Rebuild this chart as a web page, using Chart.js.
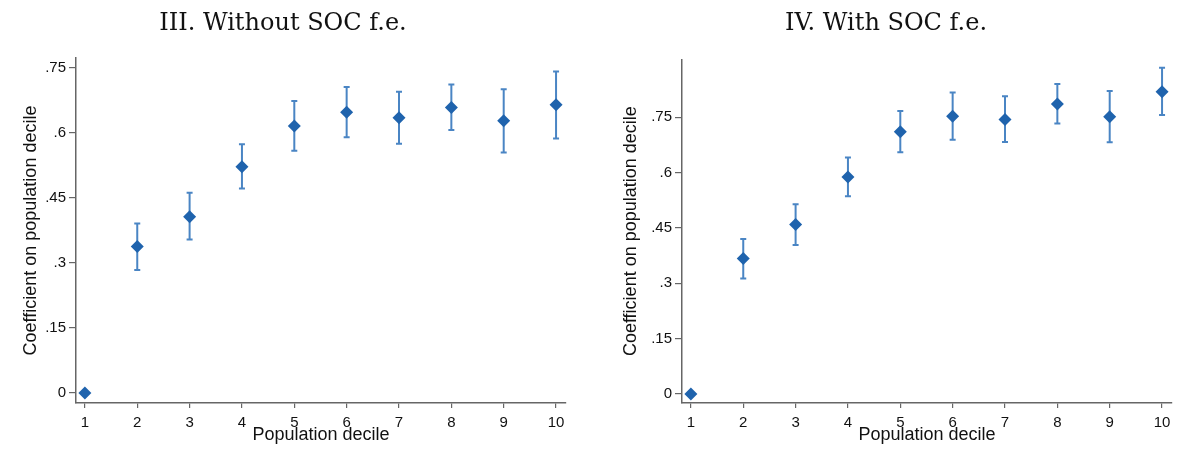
<!DOCTYPE html>
<html>
<head>
<meta charset="utf-8">
<script src="https://cdn.jsdelivr.net/npm/chart.js@4.4.1/dist/chart.umd.min.js"></script>
<style>
  body { margin: 0; background: #fff; }
  .panel { position: absolute; top: 0; height: 458px; }
</style>
</head>
<body>
<div class="panel" style="left:0;width:590px"><canvas id="chart3"></canvas></div>
<div class="panel" style="left:600px;width:583px"><canvas id="chart4"></canvas></div>
<script>
const deciles = [1, 2, 3, 4, 5, 6, 7, 8, 9, 10];
const yTicks = [0, 0.15, 0.3, 0.45, 0.6, 0.75];

// III. Without SOC f.e.
const coefIII = [0, 0.338, 0.407, 0.522, 0.616, 0.648, 0.635, 0.659, 0.628, 0.665];
const lowIII = [null, 0.284, 0.354, 0.472, 0.559, 0.590, 0.575, 0.607, 0.555, 0.587];
const highIII = [null, 0.391, 0.462, 0.574, 0.674, 0.706, 0.695, 0.712, 0.701, 0.742];

// IV. With SOC f.e.
const coefIV = [0, 0.367, 0.459, 0.588, 0.711, 0.753, 0.744, 0.786, 0.751, 0.819];
const lowIV = [null, 0.313, 0.404, 0.536, 0.655, 0.689, 0.683, 0.733, 0.682, 0.756];
const highIV = [null, 0.420, 0.514, 0.641, 0.767, 0.817, 0.807, 0.840, 0.821, 0.884];

const axisColor = "#666";
const textColor = "#111";

// draws the confidence intervals behind the diamonds
const errorBars = {
    id: "errorBars",
    beforeDatasetsDraw(chart, args, opts) {
        const { ctx, scales } = chart;
        ctx.save();
        ctx.strokeStyle = "#4a85c4";
        ctx.lineWidth = 2;
        opts.low.forEach((lo, i) => {
            if (lo === null) return;
            const x = scales.x.getPixelForValue(deciles[i]);
            const y1 = scales.y.getPixelForValue(lo);
            const y2 = scales.y.getPixelForValue(opts.high[i]);
            ctx.beginPath();
            ctx.moveTo(x, y1);
            ctx.lineTo(x, y2);
            ctx.moveTo(x - 3, y1);
            ctx.lineTo(x + 3, y1);
            ctx.moveTo(x - 3, y2);
            ctx.lineTo(x + 3, y2);
            ctx.stroke();
        });
        ctx.restore();
    },
};

function makePanel(id, title, coef, low, high, yMin, yMax, yWidth, padRight, titleBottom) {
    return new Chart(document.getElementById(id), {
        type: "scatter",
        data: {
            datasets: [
                {
                    data: deciles.map((d, i) => ({ x: d, y: coef[i] })),
                    pointStyle: "rectRot",
                    pointRadius: 6.5,
                    pointBorderWidth: 0,
                    backgroundColor: "#1f63ad",
                    borderColor: "#1f63ad",
                },
            ],
        },
        options: {
            responsive: true,
            maintainAspectRatio: false,
            animation: false,
            layout: { padding: { left: 0, right: padRight, top: 0, bottom: 0 } },
            plugins: {
                legend: { display: false },
                tooltip: { enabled: false },
                title: {
                    display: true,
                    text: title,
                    color: "#111",
                    font: { family: "DejaVu Serif", size: 24, weight: "normal", lineHeight: 1.2 },
                    padding: { top: 9, bottom: titleBottom },
                },
                errorBars: { low: low, high: high },
            },
            scales: {
                x: {
                    type: "linear",
                    min: 0.83,
                    max: 10.19,
                    afterBuildTicks: (s) => { s.ticks = deciles.map((v) => ({ value: v })); },
                    afterFit: (s) => { s.height = 55; },
                    grid: { drawOnChartArea: false, drawTicks: true, tickLength: 5, color: axisColor, lineWidth: 1.2 },
                    border: { display: true, color: axisColor, width: 1.5 },
                    ticks: { color: textColor, padding: 6, maxRotation: 0, font: { family: "Liberation Sans", size: 15 } },
                    title: {
                        display: true,
                        text: "Population decile",
                        color: textColor,
                        font: { family: "Liberation Sans", size: 18, lineHeight: 1.2 },
                        padding: { top: 0, bottom: 12 },
                    },
                },
                y: {
                    min: yMin,
                    max: yMax,
                    afterBuildTicks: (s) => { s.ticks = yTicks.map((v) => ({ value: v })); },
                    afterFit: (s) => { s.width = yWidth; },
                    grid: { drawOnChartArea: false, drawTicks: true, tickLength: 7, color: axisColor, lineWidth: 1.2 },
                    border: { display: true, color: axisColor, width: 1.5 },
                    ticks: {
                        color: textColor,
                        padding: 3,
                        font: { family: "Liberation Sans", size: 15 },
                        callback: (v) => (v === 0 ? "0" : String(v).replace(/^0/, "")),
                    },
                    title: {
                        display: true,
                        text: "Coefficient on population decile",
                        color: textColor,
                        font: { family: "Liberation Sans", size: 18, lineHeight: 1.2 },
                        padding: { top: 20, bottom: 0 },
                    },
                },
            },
        },
        plugins: [errorBars],
    });
}

makePanel("chart3", "III. Without SOC f.e.", coefIII, lowIII, highIII, -0.023, 0.773, 76, 24, 20.2);
makePanel("chart4", "IV. With SOC f.e.", coefIV, lowIV, highIV, -0.0244, 0.907, 82, 11, 21.5);
</script>
</body>
</html>
